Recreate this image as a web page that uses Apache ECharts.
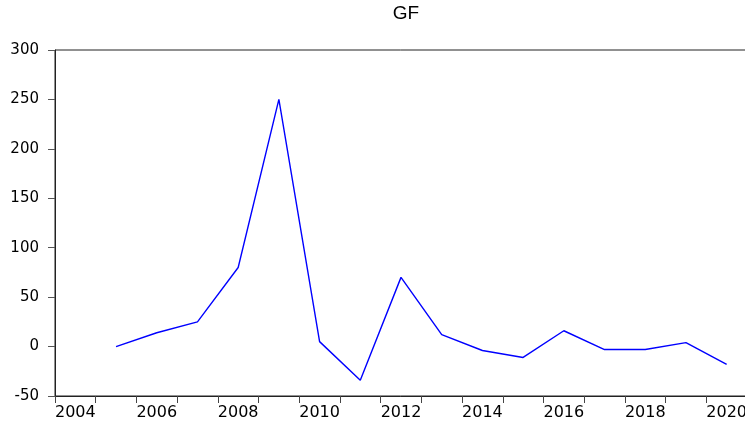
<!DOCTYPE html>
<html>
<head>
<meta charset="utf-8">
<script src="https://cdn.jsdelivr.net/npm/echarts@6/dist/echarts.min.js"></script>
<style>
  html, body { margin: 0; padding: 0; background: #fff; }
  #main { width: 745px; height: 426px; }
</style>
</head>
<body>
<div id="main"></div>
<script>
// yearly categories, 2004 has no observation
var years = ['2004', '2005', '2006', '2007', '2008', '2009', '2010', '2011', '2012',
             '2013', '2014', '2015', '2016', '2017', '2018', '2019', '2020'];
var gf = [null, 0, 14, 25, 80, 250, 5, -34, 70, 12, -4, -11, 16, -3, -3, 4, -18];
var yTicks = { min: -50, max: 300, step: 50 };

var chart = echarts.init(document.getElementById('main'));
chart.setOption({
    animation: false,
    backgroundColor: '#fff',
    title: {
        text: 'GF',
        left: 401,
        top: -1,
        textAlign: 'center',
        textStyle: { fontFamily: 'Liberation Sans', fontSize: 19, fontWeight: 'normal', color: '#000' }
    },
    grid: {
        left: 55, right: -2, top: 50, bottom: 30,
        outerBoundsMode: 'none',
        containLabel: false,
        show: true, borderColor: '#222', borderWidth: 1, backgroundColor: 'transparent'
    },
    xAxis: {
        type: 'category',
        data: years,
        boundaryGap: true,
        axisLine: { onZero: false, lineStyle: { color: '#222', width: 1 } },
        axisTick: { show: true, interval: 0, length: 7, lineStyle: { color: '#444' } },
        axisLabel: {
            interval: 1, margin: 9, color: '#000',
            fontFamily: 'DejaVu Sans', fontSize: 16
        },
        splitLine: { show: false }
    },
    yAxis: {
        type: 'value',
        min: yTicks.min, max: yTicks.max, interval: yTicks.step,
        axisLine: { show: true, onZero: false, lineStyle: { color: '#222', width: 1 } },
        axisTick: { show: true, length: 7, lineStyle: { color: '#555' } },
        axisLabel: { margin: 16, color: '#000', fontFamily: 'DejaVu Sans', fontSize: 15 },
        splitLine: { show: false }
    },
    series: [{
        name: 'GF',
        type: 'line',
        data: gf,
        symbol: 'none',
        connectNulls: false,
        lineStyle: { color: '#0000ff', width: 1.4 }
    }]
});
</script>
</body>
</html>
